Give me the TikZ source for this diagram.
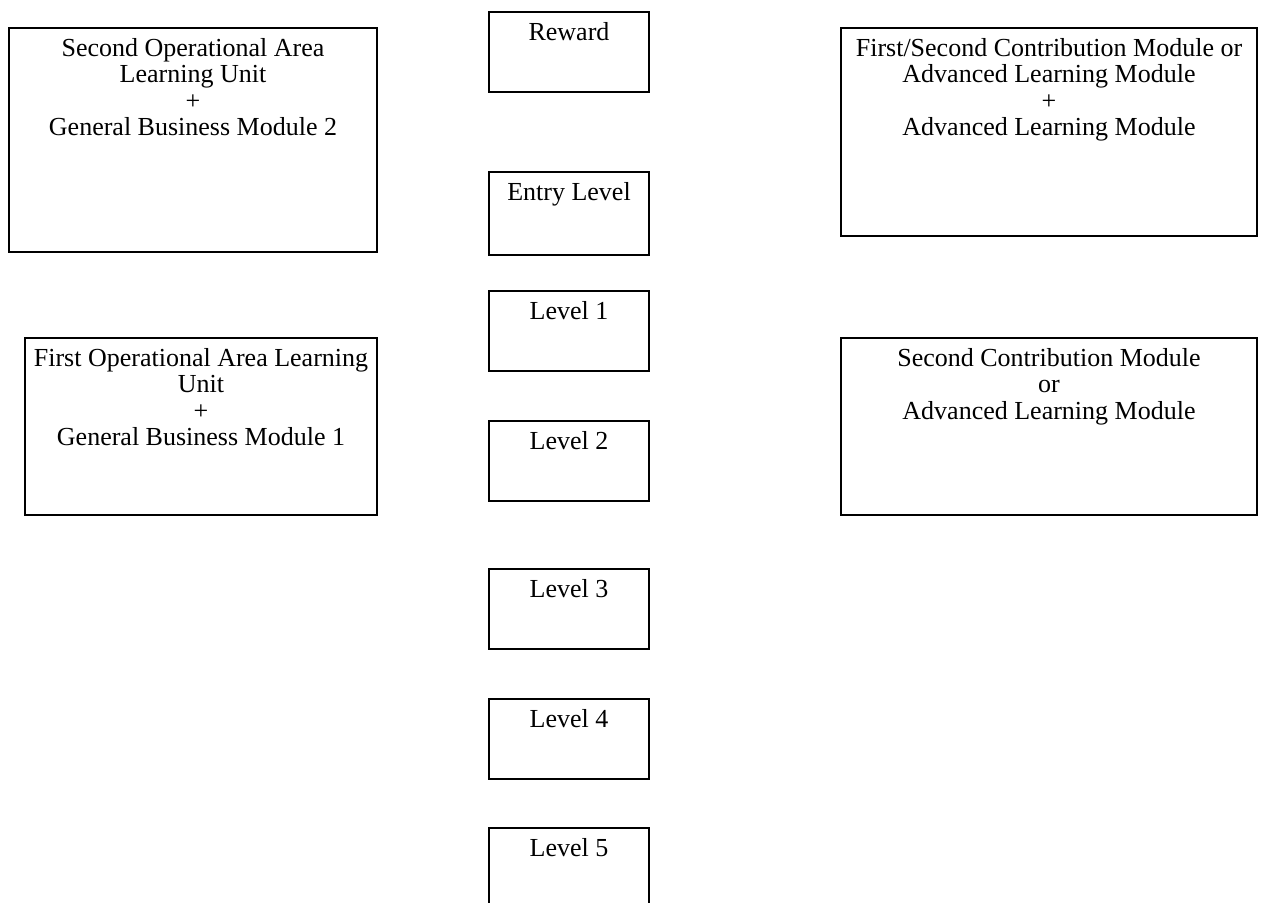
\documentclass[tikz,border=0pt]{standalone}
\usepackage{fontspec}
\setmainfont{Liberation Serif}
\usetikzlibrary{positioning}

\tikzset{
  box/.style={draw, line width=0.9pt, rectangle, inner sep=0pt},
  boxtext/.style={align=center, inner xsep=4pt, inner ysep=5.3pt,
    font=\fontsize{13}{13.25}\selectfont}
}

\begin{document}
\begin{tikzpicture}[x=0.5pt,y=-0.5pt]

% Canvas (pixel grid of the reference, y pointing down)
\useasboundingbox (0,0) rectangle (1275,903);

% --- Left column: operational area units ---
\node[box, minimum width=184pt, minimum height=112pt] (opAreaTwo) at (193,140) {};
\node[boxtext, below=0pt of opAreaTwo.north] (opAreaTwoText)
  {Second Operational Area\\ Learning Unit\\ +\\ General Business Module 2};

\node[box, minimum width=176pt, minimum height=88.5pt] (opAreaOne) at (201,426.5) {};
\node[boxtext, below=0pt of opAreaOne.north] (opAreaOneText)
  {First Operational Area Learning\\ Unit\\ +\\ General Business Module 1};

% --- Middle column: levels ---
\node[box, minimum width=80pt, minimum height=40pt] (reward) at (569,52) {};
\node[boxtext, below=0pt of reward.north] (rewardText) {Reward};

\node[box, minimum width=80pt, minimum height=41.5pt] (entry) at (569,213.5) {};
\node[boxtext, below=0pt of entry.north] (entryText) {Entry Level};

\foreach \lvl/\ypos in {1/331, 2/461, 3/609, 4/739, 5/868} {
  \node[box, minimum width=80pt, minimum height=40pt] (level\lvl) at (569,\ypos) {};
  \node[boxtext, below=0pt of level\lvl.north] (level\lvl Text) {Level \lvl};
}

% --- Right column: contribution modules ---
\node[box, minimum width=208pt, minimum height=104pt] (contribTwelve) at (1049,132) {};
\node[boxtext, below=0pt of contribTwelve.north] (contribTwelveText)
  {First/Second Contribution Module or\\ Advanced Learning Module\\ +\\ Advanced Learning Module};

\node[box, minimum width=208pt, minimum height=88.5pt] (contribTwo) at (1049,426.5) {};
\node[boxtext, below=0pt of contribTwo.north] (contribTwoText)
  {Second Contribution Module\\ or\\ Advanced Learning Module};

\end{tikzpicture}
\end{document}
